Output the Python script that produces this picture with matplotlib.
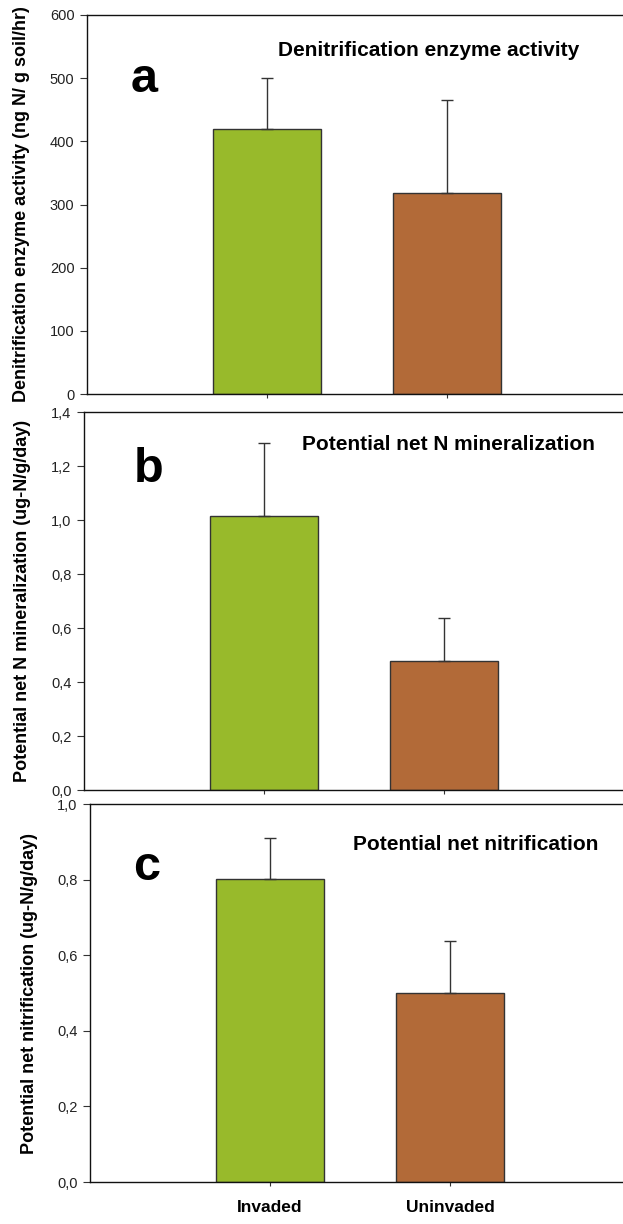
import matplotlib
matplotlib.use("Agg")
import matplotlib.pyplot as plt
from matplotlib.ticker import FuncFormatter, MultipleLocator

# Site categories
categories = ["Invaded", "Uninvaded"]

# Panel a: denitrification enzyme activity (ng N / g soil / hr)
dea_mean = [420, 318]
dea_se = [80, 147]

# Panel b: potential net N mineralization (ug-N/g/day)
minz_mean = [1.015, 0.478]
minz_se = [0.269, 0.159]

# Panel c: potential net nitrification (ug-N/g/day)
nitr_mean = [0.802, 0.501]
nitr_se = [0.109, 0.137]

bar_colors = ["#98BA2B", "#B26A38"]
edge = "#333333"
FONT = "Liberation Sans"

W, H = 623, 1224
DPI = 100
fig = plt.figure(figsize=(W / DPI, H / DPI), dpi=DPI)
plt.rcParams["font.family"] = FONT


def fx(px):
    return px / W


def fy(py):
    return 1 - py / H


panels = [
    dict(left=87, top=15, bottom=394, mean=dea_mean, se=dea_se, ymax=600, step=100,
         fmt=lambda v, p: f"{v:.0f}",
         ylabel="Denitrification enzyme activity (ng N/ g soil/hr)", ylab_x=22,
         letter="a", letter_xy=(131, 92),
         title="Denitrification enzyme activity", title_xy=(278, 50)),
    dict(left=84, top=412, bottom=790, mean=minz_mean, se=minz_se, ymax=1.4, step=0.2,
         fmt=lambda v, p: f"{v:.1f}".replace(".", ","),
         ylabel="Potential net N mineralization (ug-N/g/day)", ylab_x=23,
         letter="b", letter_xy=(134, 482),
         title="Potential net N mineralization", title_xy=(302, 445)),
    dict(left=90, top=804, bottom=1182, mean=nitr_mean, se=nitr_se, ymax=1.0, step=0.2,
         fmt=lambda v, p: f"{v:.1f}".replace(".", ","),
         ylabel="Potential net nitrification (ug-N/g/day)", ylab_x=30,
         letter="c", letter_xy=(133, 880),
         title="Potential net nitrification", title_xy=(353, 844)),
]

unit = 180.0  # pixels between category positions
positions = [1, 2]

for i, p in enumerate(panels):
    ax = fig.add_axes([fx(p["left"]), fy(p["bottom"]),
                       (W - p["left"]) / W, (p["bottom"] - p["top"]) / H])
    ax.bar(positions, p["mean"], width=0.6, color=bar_colors,
           edgecolor=edge, linewidth=1.0, zorder=2)
    ax.errorbar(positions, p["mean"], yerr=[[0, 0], p["se"]], fmt="none",
                ecolor=edge, elinewidth=1.0, capsize=4, capthick=1.0, zorder=3)
    ax.set_xlim(0, (W - p["left"]) / unit)
    ax.set_ylim(0, p["ymax"])
    ax.yaxis.set_major_locator(MultipleLocator(p["step"]))
    ax.yaxis.set_major_formatter(FuncFormatter(p["fmt"]))
    ax.set_xticks(positions)
    if i == 2:
        ax.set_xticklabels(categories, fontsize=12.5, fontweight="bold",
                           fontfamily=FONT)
    else:
        ax.set_xticklabels([])
    ax.tick_params(axis="y", direction="out", length=5, width=0.8,
                   color="#333333", labelsize=10.5, labelcolor="#222222", pad=4)
    ax.tick_params(axis="x", direction="out", length=3, width=0.8,
                   color="#333333", pad=10)
    for side in ["left", "bottom", "top"]:
        ax.spines[side].set_linewidth(1.0)
        ax.spines[side].set_color("#111111")
    ax.spines["right"].set_visible(False)

    fig.text(fx(p["ylab_x"]), fy((p["top"] + p["bottom"]) / 2), p["ylabel"],
             rotation=90, ha="center", va="center", fontsize=13,
             fontweight="bold", fontfamily=FONT)
    fig.text(fx(p["letter_xy"][0]), fy(p["letter_xy"][1]), p["letter"],
             ha="left", va="baseline", fontsize=35, fontweight="bold",
             fontfamily=FONT)
    fig.text(fx(p["title_xy"][0]), fy(p["title_xy"][1]), p["title"],
             ha="left", va="center", fontsize=15, fontweight="bold",
             fontfamily=FONT)

fig.savefig("out.png", dpi=DPI)
